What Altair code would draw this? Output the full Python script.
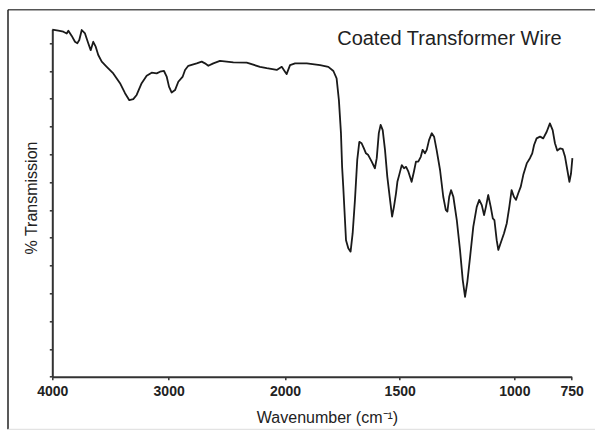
import altair as alt
import pandas as pd

# Wavenumber (cm-1)
wavenumber = [4000, 3948, 3905, 3876, 3862, 3833, 3805, 3785, 3768, 3747, 3719, 3691, 3670, 3648, 3627,
              3605, 3575, 3532, 3476, 3418, 3375, 3338, 3304, 3275, 3232, 3189, 3146, 3103, 3074, 3040,
              3017, 2997, 2974, 2945, 2917, 2879, 2859, 2831, 2759, 2716, 2688, 2659, 2616, 2559, 2444,
              2329, 2215, 2157, 2071, 2028, 2000, 1993, 1978, 1956, 1905, 1847, 1811, 1789, 1775, 1765,
              1756, 1751, 1746, 1734, 1724, 1714, 1705, 1695, 1685, 1676, 1666, 1656, 1647, 1637, 1622,
              1608, 1600, 1591, 1583, 1574, 1564, 1554, 1542, 1533, 1525, 1516, 1510, 1502, 1491, 1481,
              1472, 1462, 1448, 1438, 1429, 1419, 1408, 1400, 1390, 1382, 1372, 1360, 1350, 1339, 1324,
              1310, 1299, 1292, 1284, 1276, 1266, 1251, 1237, 1225, 1215, 1205, 1193, 1179, 1164, 1153,
              1142, 1132, 1124, 1114, 1103, 1094, 1087, 1077, 1070, 1060, 1045, 1033, 1022, 1012, 1002,
              993, 983, 972, 961, 946, 932, 922, 914, 903, 888, 874, 859, 845, 833, 823,
              813, 801, 789, 779, 769, 760, 753, 747]

# % Transmission (arbitrary 0-100 scale)
transmission = [99.9, 99.6, 99.3, 98.8, 99.6, 98.1, 96.4, 96.0, 96.9, 99.8, 98.8, 96.0, 94.0, 96.4, 95.0,
                92.6, 90.7, 89.2, 87.3, 84.5, 81.6, 79.6, 79.9, 81.1, 84.5, 86.6, 87.5, 87.3, 87.8, 88.0,
                86.4, 83.5, 81.8, 82.5, 84.9, 86.4, 88.3, 89.5, 90.2, 90.7, 90.2, 89.5, 90.2, 90.9, 90.5,
                90.4, 89.2, 88.8, 88.3, 89.2, 87.8, 87.1, 89.7, 90.2, 90.2, 89.7, 89.2, 88.0, 85.9, 79.6,
                70.1, 60.4, 54.7, 39.3, 37.0, 36.0, 41.3, 50.9, 62.4, 67.6, 67.2, 65.7, 64.3, 63.8, 61.9,
                60.0, 62.9, 70.1, 72.5, 71.0, 65.3, 57.6, 50.9, 46.1, 48.9, 52.8, 56.1, 58.1, 60.9, 60.0,
                60.4, 59.0, 56.1, 59.0, 61.9, 61.9, 63.3, 65.3, 64.3, 65.3, 68.1, 70.1, 69.1, 65.3, 59.5,
                51.8, 48.0, 47.5, 51.8, 53.7, 51.8, 45.1, 36.5, 27.8, 23.0, 27.3, 34.5, 43.2, 48.9, 50.9,
                49.4, 46.5, 48.9, 52.3, 48.9, 45.6, 45.1, 39.3, 36.5, 38.4, 41.3, 44.2, 48.9, 53.7, 51.8,
                50.9, 52.8, 54.7, 58.1, 61.4, 62.9, 64.3, 66.7, 68.6, 69.1, 68.6, 70.5, 72.9, 71.0, 67.2,
                65.1, 65.7, 65.5, 63.3, 59.5, 56.1, 58.5, 62.9]

x_ticks = [4000, 3000, 2000, 1500, 1000, 750]
y_ticks = [0, 8, 16, 24, 32, 40, 48, 56, 64, 72, 80, 88, 96]

title_text = "Coated Transformer Wire"
x_title = "Wavenumber (cm\u207b\u00b9)"
y_title = "% Transmission"

FONT = "Liberation Sans, Arial, Helvetica, sans-serif"
W, H = 519.4, 347.4

df = pd.DataFrame({"wn": wavenumber, "t": transmission})

x_scale = alt.Scale(domain=[4000, 2000, 750], range=[0, 232.7, W], nice=False, zero=False)
y_scale = alt.Scale(domain=[0, 100], nice=False, zero=False)

line = alt.Chart(df).mark_line(color="#1a1a1a", strokeWidth=1.8, strokeJoin="round").encode(
    x=alt.X("wn:Q", scale=x_scale,
            axis=alt.Axis(values=x_ticks, format="d", title=x_title, grid=False,
                          domainColor="#333", domainWidth=2,
                          tickColor="#333", tickWidth=1.5, tickSize=3,
                          labelFont=FONT, labelFontWeight="bold", labelFontSize=14,
                          labelColor="#222", labelPadding=5, labelFlush=False,
                          titleFont=FONT, titleFontSize=16, titleFontWeight="normal",
                          titleColor="#222", titleX=274.7, titleY=45.5,
                          titleBaseline="alphabetic", titleAlign="center")),
    y=alt.Y("t:Q", scale=y_scale,
            axis=alt.Axis(values=y_ticks, labels=False, title=y_title, grid=False,
                          domainColor="#333", domainWidth=2,
                          tickColor="#333", tickWidth=1.5, tickSize=3,
                          titleFont=FONT, titleFontSize=16, titleFontWeight="normal",
                          titleColor="#222", titleX=-15.5, titleY=168.2,
                          titleAngle=270, titleBaseline="alphabetic", titleAlign="center")),
    order="wn:Q",
)

title_mark = alt.Chart(pd.DataFrame({"label": [title_text]})).mark_text(
    font=FONT, fontSize=20, color="#222", align="right", baseline="alphabetic"
).encode(x=alt.value(509.4), y=alt.value(15.7), text="label:N")

frame_top = alt.Chart(pd.DataFrame({"a": [0]})).mark_rule(color="#555", strokeWidth=1.5).encode(
    x=alt.value(-44.3), x2=alt.value(545), y=alt.value(-19.6))
frame_left = alt.Chart(pd.DataFrame({"a": [0]})).mark_rule(color="#222", strokeWidth=1.5).encode(
    x=alt.value(-44.3), y=alt.value(-19.6), y2=alt.value(400))
frame_bottom = alt.Chart(pd.DataFrame({"a": [0]})).mark_rule(color="#ddd", strokeWidth=1).encode(
    x=alt.value(-44.3), x2=alt.value(545), y=alt.value(400))

chart = alt.layer(frame_top, frame_left, frame_bottom, line, title_mark).properties(
    width=W, height=H,
    autosize="none",
    padding={"left": 52.3, "top": 29.3, "right": 595 - 52.3 - W, "bottom": 434 - 29.3 - H},
    background="white",
).configure_view(stroke=None)

chart.save("out.html", embed_options={"renderer": "svg", "actions": False})
